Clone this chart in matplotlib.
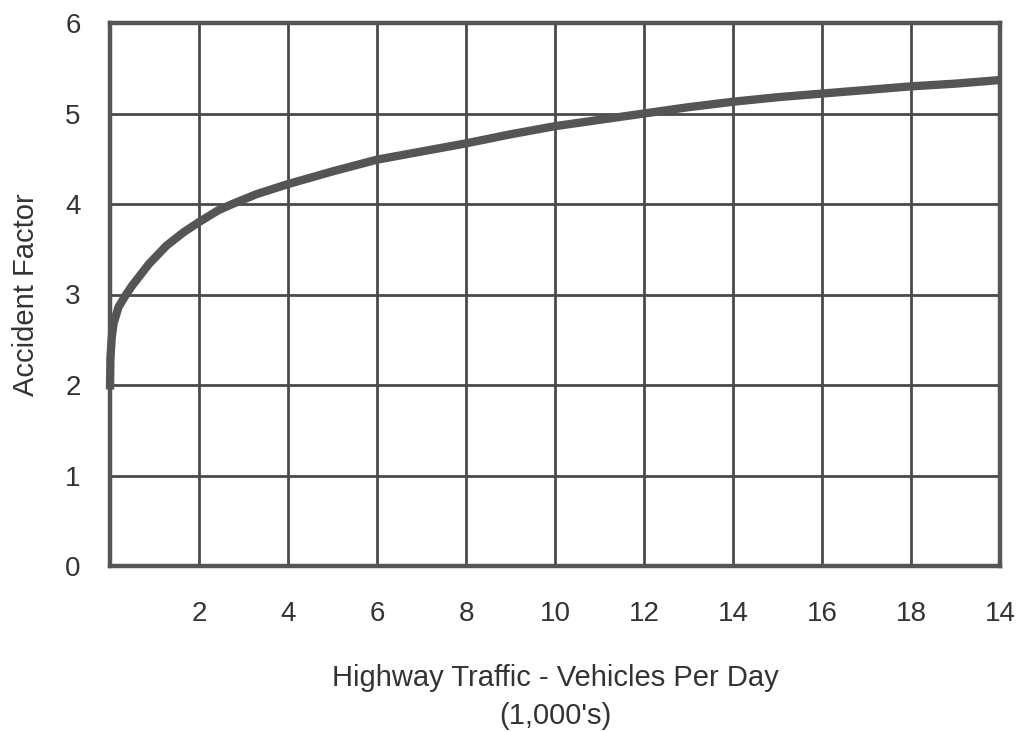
import matplotlib
matplotlib.use("Agg")
import matplotlib.pyplot as plt

# Data
traffic = [0.0, 0.01, 0.04, 0.08, 0.19, 0.35, 0.5, 0.88, 1.27, 1.66, 2.0, 2.43, 2.75, 3.3, 4.0,
           5.0, 6.0, 7.0, 8.0, 9.0, 10.0, 11.0, 12.0, 13.0, 14.0, 15.0, 16.0, 17.0, 18.0, 19.0, 20.0]
accident = [1.95, 2.3, 2.53, 2.68, 2.86, 2.99, 3.10, 3.34, 3.54, 3.69, 3.80, 3.93, 4.0, 4.11, 4.22,
            4.36, 4.49, 4.58, 4.67, 4.77, 4.86, 4.93, 5.0, 5.07, 5.13, 5.18, 5.22, 5.26, 5.30, 5.33, 5.37]
x_tick_pos = [2, 4, 6, 8, 10, 12, 14, 16, 18, 20]
x_tick_labels = ["2", "4", "6", "8", "10", "12", "14", "16", "18", "14"]
y_ticks = [0, 1, 2, 3, 4, 5, 6]

plt.rcParams['font.family'] = ['Liberation Sans', 'DejaVu Sans']

fig = plt.figure(figsize=(10.22, 7.32), dpi=100)
ax = fig.add_axes([110/1022, 1-566/732, (1000-110)/1022, (566-23)/732])

ax.set_xlim(0, 20)
ax.set_ylim(0, 6)
ax.set_xticks(x_tick_pos)
ax.set_xticklabels(x_tick_labels)
ax.set_yticks(y_ticks)
ax.grid(True, color='#4a4a4a', linewidth=2.0)
ax.set_axisbelow(True)

ax.plot(traffic, accident, color='#555555', linewidth=6, solid_capstyle='butt',
        solid_joinstyle='round', zorder=3, clip_on=False)

ax.tick_params(axis='both', length=0, labelsize=20, colors='#333333')
ax.tick_params(axis='x', pad=25)
ax.tick_params(axis='y', pad=21)
for s in ax.spines.values():
    s.set_color('#555555')
    s.set_linewidth(3.2)

fig.text(26/1022, 1-295/732, "Accident Factor", rotation=90, ha='center', va='center',
         fontsize=21, color='#333333')
fig.text(555/1022, 1-678/732, "Highway Traffic - Vehicles Per Day", ha='center', va='center',
         fontsize=21, color='#333333')
fig.text(555/1022, 1-716/732, "(1,000's)", ha='center', va='center',
         fontsize=21, color='#333333')

fig.savefig("out.png", dpi=100)
